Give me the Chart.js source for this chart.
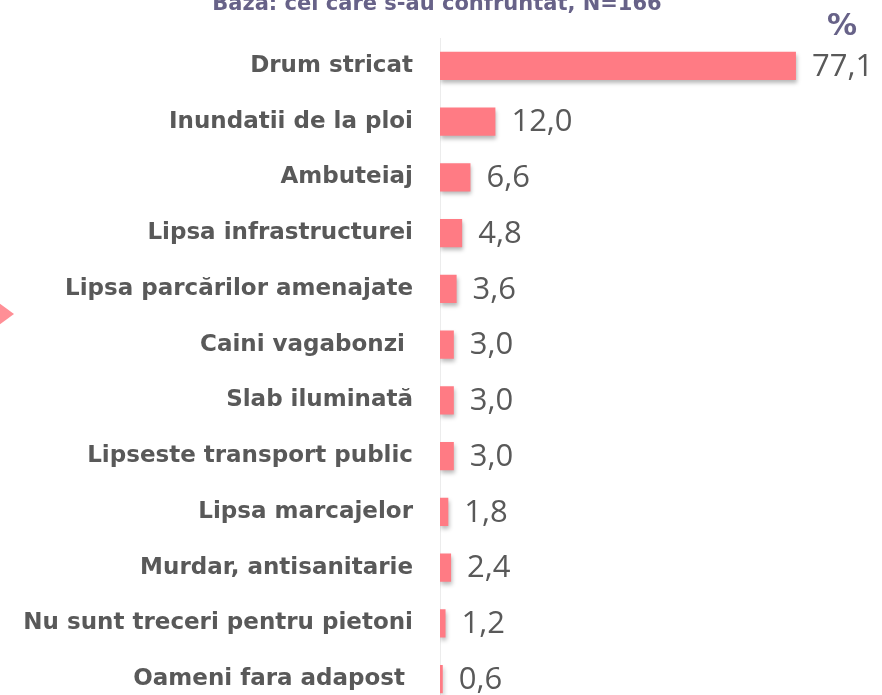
<!DOCTYPE html>
<html>
<head>
<meta charset="utf-8">
<script src="https://cdn.jsdelivr.net/npm/chart.js@4.4.1/dist/chart.umd.min.js"></script>
<style>
  html, body { margin: 0; padding: 0; background: #ffffff; overflow: hidden; }
  #c { position: absolute; left: 0; top: 0; }
</style>
</head>
<body>
<canvas id="c" width="882" height="720" style="width:882px;height:720px"></canvas>
<script>
const titleText = "Baza: cei care s-au confruntat, N=166";
const unitText = "%";
const categories = [
  "Drum stricat",
  "Inundatii de la ploi",
  "Ambuteiaj",
  "Lipsa infrastructurei",
  "Lipsa parcărilor amenajate",
  "Caini vagabonzi ",
  "Slab iluminată",
  "Lipseste transport public",
  "Lipsa marcajelor",
  "Murdar, antisanitarie",
  "Nu sunt treceri pentru pietoni",
  "Oameni fara adapost "
];
const values = [77.1, 12.0, 6.6, 4.8, 3.6, 3.0, 3.0, 3.0, 1.8, 2.4, 1.2, 0.6];

const BAR_COLOR = "#FF7B84";
const LABEL_COLOR = "#595959";
const TITLE_COLOR = "#676288";

const shadowPlugin = {
  id: "barShadow",
  beforeDatasetsDraw(chart) {
    const ctx = chart.ctx;
    ctx.save();
    ctx.shadowColor = "rgba(0,0,0,0.28)";
    ctx.shadowBlur = 4;
    ctx.shadowOffsetX = 1;
    ctx.shadowOffsetY = 3;
  },
  afterDatasetsDraw(chart) {
    chart.ctx.restore();
  }
};

const decorPlugin = {
  id: "decor",
  afterDraw(chart) {
    const ctx = chart.ctx;
    ctx.save();
    ctx.fillStyle = TITLE_COLOR;
    ctx.font = "bold 21px 'DejaVu Sans'";
    ctx.textAlign = "center";
    ctx.textBaseline = "alphabetic";
    ctx.fillText(titleText, 437, 10);
    ctx.font = "bold 30px 'DejaVu Sans'";
    ctx.fillText(unitText, 842, 35);
    ctx.fillStyle = "#FF8F96";
    ctx.beginPath();
    ctx.moveTo(-8, 298);
    ctx.lineTo(14, 314);
    ctx.lineTo(-8, 330);
    ctx.closePath();
    ctx.fill();
    const meta = chart.getDatasetMeta(0);
    ctx.fillStyle = LABEL_COLOR;
    ctx.font = "31px 'Open Sans'";
    ctx.textAlign = "left";
    ctx.textBaseline = "middle";
    meta.data.forEach((bar, i) => {
      const txt = values[i].toFixed(1).replace(".", ",");
      ctx.fillText(txt, bar.x + 16, bar.y + 1);
    });
    ctx.restore();
  }
};

new Chart(document.getElementById("c"), {
  type: "bar",
  data: {
    labels: categories,
    datasets: [{
      data: values,
      backgroundColor: BAR_COLOR,
      borderWidth: 0,
      barPercentage: 0.503,
      categoryPercentage: 1.0
    }]
  },
  options: {
    indexAxis: "y",
    responsive: false,
    maintainAspectRatio: false,
    devicePixelRatio: 1,
    animation: false,
    layout: { padding: { top: 38, bottom: 13, left: 0, right: 26.5 } },
    plugins: {
      legend: { display: false },
      title: { display: false },
      tooltip: { enabled: false }
    },
    scales: {
      x: {
        display: false,
        min: 0,
        max: 90
      },
      y: {
        grid: { display: false, drawTicks: false },
        border: { display: true, color: "#ececec", width: 1 },
        ticks: {
          padding: 27,
          color: LABEL_COLOR,
          font: { family: "'DejaVu Sans'", size: 23, weight: "bold" }
        },
        afterFit(scale) {
          scale.width = 440;
          scale.paddingTop = 0;
          scale.paddingBottom = 0;
        }
      }
    }
  },
  plugins: [shadowPlugin, decorPlugin]
});
</script>
</body>
</html>
